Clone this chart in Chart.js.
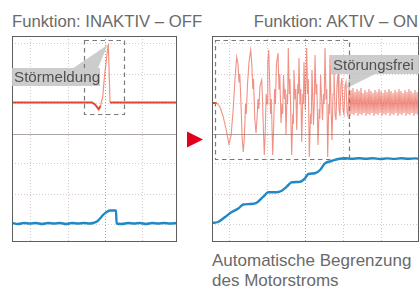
<!DOCTYPE html>
<html lang="de">
<head>
<meta charset="utf-8">
<script src="https://cdn.jsdelivr.net/npm/chart.js@4.4.1/dist/chart.umd.min.js"></script>
<style>
  body { margin: 0; background: #fff; font-family: "Liberation Sans", Arial, sans-serif; color: #6a6a6a; }
  #page { position: relative; width: 419px; height: 289px; overflow: hidden; }
  .title { position: absolute; top: 14px; font-size: 16.7px; line-height: 1; white-space: nowrap; }
  canvas { position: absolute; top: 36px; }
  .tag { position: absolute; height: 18px; line-height: 18px; background: rgba(200,200,200,0.92); color: #505050; font-size: 15.2px; padding-left: 2px; white-space: nowrap; box-sizing: border-box; }
  .caption { position: absolute; left: 212px; top: 251px; font-size: 17px; line-height: 20px; }
</style>
</head>
<body>
<div id="page">
  <div class="title" style="left:12px">Funktion: INAKTIV – OFF</div>
  <div class="title" style="right:1px">Funktion: AKTIV – ON</div>
  <canvas id="scopeOff" width="165" height="206" style="left:12px"></canvas>
  <canvas id="scopeOn" width="207" height="206" style="left:212px"></canvas>
  <svg style="position:absolute;left:186px;top:131px" width="18" height="17"><polygon points="1,0.5 17,8.5 1,16.5" fill="#e2001a"/></svg>
  <div class="tag" style="left:12px;top:68px;width:88px">Störmeldung</div>
  <div class="tag" style="left:331px;top:55px;width:88px;height:19px;line-height:19px;font-size:15px">Störungsfrei</div>
  <div class="caption">Automatische Begrenzung<br>des Motorstroms</div>
</div>
<script>
// time (x) against signal (y), y = 0 is the centre line of each scope screen
const offRed = [[0,31.5],[80,31.5],[83,29.5],[86.7,24.7],[88.5,28],[90.7,37],[92.5,58],[94.7,77],
  [96.3,90],[97.2,60],[98,31.5],[165,31.5]];
const offBlue = [[0,-89],[6,-90],[12,-89],[18,-89.5],[24,-89],[30,-90],[36,-89],[42,-89.5],[48,-89],
  [54,-90],[60,-89],[66,-89.5],[72,-89],[78,-89.5],[81,-89],[85,-87.5],[88,-84.5],[91,-81],[94.7,-78],
  [98,-76.5],[104,-76.5],[104.6,-89.5],[110,-90],[116,-89],[122,-89.5],[128,-89],[134,-90],[140,-89],
  [146,-89.5],[152,-89],[158,-89.5],[165,-89]];

const onRed = [[0,31],[4.7,31],[8,27],[11,18],[14,5],[17,-10],[19,-2],[21,22],[23,55],[24.7,77],
  [26,70],[27,52],[27.8,60],[29,30],[30.2,-5],[31.3,-18],[32.3,-5],[33.5,30],[34.3,20],[35.5,50],
  [37,72],[38.7,84],[39.8,70],[40.8,45],[41.5,55],[42.8,15],[44,1],[45,15],[46,35],[46.8,25],[48,48],
  [49.7,54],[50.5,35],[51.4,5],[52.3,-21],[53.2,0],[54.2,40],[55,30],[55.8,70],[56.7,84],[57.6,55],
  [58.6,20],[59.3,35],[60.7,-21],[61.6,5],[62.6,45],[63.4,30],[64.5,70],[66,81],[67,45],[67.8,60],
  [69,11],[70,30],[70.7,20],[71.5,59],[72.5,35],[73.2,45],[74,-1],[75,40],[75.6,30],[76.3,86],[77.3,40],
  [78,55],[79.7,-21],[80.8,20],[81.4,10],[82,64],[83,35],[83.8,45],[84.7,4],[85.8,50],[86.4,40],[87,76],
  [88,30],[88.8,45],[89.7,-8],[90.8,40],[91.4,30],[92,72],[93.3,24],[94.7,86],[95.6,40],[96.3,55],
  [97.3,-23],[98.5,20],[99.2,10],[100,64],[101.5,9],[102.3,30],[103,79],[104,40],[104.8,50],[106,-11],
  [107.2,25],[107.8,15],[108.5,59],[110.5,14],[111.5,40],[112.2,30],[113,86],[114,35],[114.8,45],
  [115.7,-23],[116.8,30],[117.4,20],[118,79],[119,30],[120,-6],[121,40],[122,66],[123,20],[124,14],
  [125,50],[126,60],[127,25],[128,18],[129,50],[130,56],[131,24],[132,20],[133,48],[134,52],[135,22],
  [136,18],[137,47],[138,18],[139,44],[140,20],[141,46],[142,19],[143,42],[144,21],[145,45],[146,18],
  [147,43],[148,20],[149,46],[150,19],[151,41],[152,21],[153,44],[154,18],[155,42],[156,20],[157,45],
  [158,19],[159,43],[160,21],[161,41],[162,18],[163,44],[164,20],[165,42],[166,19],[167,45],[168,21],
  [169,43],[170,18],[171,41],[172,20],[173,44],[174,19],[175,42],[176,21],[177,45],[178,18],[179,43],
  [180,20],[181,41],[182,19],[183,44],[184,21],[185,42],[186,18],[187,45],[188,20],[189,43],[190,19],
  [191,41],[192,21],[193,44],[194,18],[195,42],[196,20],[197,45],[198,19],[199,43],[200,21],[201,41],
  [202,18],[203,44],[204,20],[205,42],[206,19],[207,43]];
const onBlue = [[0,-89],[6,-88],[13,-83],[19.7,-78],[26.3,-74.5],[31.3,-70.5],[38,-70],[44.7,-68.7],
  [51.3,-62.7],[56.3,-58.3],[64.7,-58.3],[69.7,-56.7],[74.7,-52.7],[79.7,-48.3],[88,-47.7],[93,-44.3],
  [96.3,-40],[103,-39.3],[108,-36],[113,-29.3],[119.7,-27],[126.3,-25],[133,-24.3],[140,-24.8],
  [147,-24.2],[154,-24.8],[161,-24.3],[168,-25],[175,-24.4],[182,-24.9],[189,-24.3],[196,-24.8],
  [203,-24.4],[207,-24.7]];

// grid divisions
const gridOffX = [18, 56, 93, 130];
const gridOnX = [17, 55, 93, 131, 169];
const gridY = [-90, -60, -30, 0, 30, 60, 90];

const toXY = arr => arr.map(p => ({x: p[0], y: p[1]}));

const scopeMarks = {
  id: 'scopeMarks',
  beforeDatasetsDraw(chart) {
    const {ctx, chartArea: a, scales: {y}} = chart;
    const y0 = Math.round(y.getPixelForValue(0)) + 0.5;
    ctx.save();
    ctx.strokeStyle = '#aba5a3';
    ctx.lineWidth = 1;
    ctx.beginPath(); ctx.moveTo(a.left, y0); ctx.lineTo(a.right, y0); ctx.stroke();
    ctx.restore();
  },
  afterDatasetsDraw(chart, args, opts) {
    const {ctx, scales: {x, y}} = chart;
    ctx.save();
    // callout wedge
    ctx.fillStyle = 'rgba(200,200,200,0.92)';
    ctx.beginPath();
    opts.wedge.forEach((p, i) => {
      const px = x.getPixelForValue(p[0]), py = y.getPixelForValue(p[1]);
      i ? ctx.lineTo(px, py) : ctx.moveTo(px, py);
    });
    ctx.closePath(); ctx.fill();
    // dashed box
    const b = opts.box;
    const x0 = Math.round(x.getPixelForValue(b[0])) + 0.5, x1 = Math.round(x.getPixelForValue(b[2])) + 0.5;
    const y0 = Math.round(y.getPixelForValue(b[1])) + 0.5, y1 = Math.round(y.getPixelForValue(b[3])) + 0.5;
    ctx.strokeStyle = '#7a7a7a';
    ctx.lineWidth = 1.2;
    ctx.setLineDash([4.5, 3.5]);
    ctx.strokeRect(x0, y0, x1 - x0, y1 - y0);
    ctx.restore();
  },
  afterDraw(chart) {
    const {ctx, chartArea: a} = chart;
    ctx.save();
    ctx.strokeStyle = '#5e5e5e';
    ctx.lineWidth = 1;
    ctx.strokeRect(a.left + 0.5, a.top + 0.5, a.width - 1, a.height - 1);
    ctx.restore();
  }
};

function scope(id, red, blue, gridX, xMax, marks, redStyle) {
  return new Chart(document.getElementById(id), {
    type: 'line',
    data: {
      datasets: [{
        data: toXY(blue),
        borderColor: '#2089c5',
        borderWidth: 2.4,
        cubicInterpolationMode: 'monotone',
        pointRadius: 0
      }, Object.assign({
        data: toXY(red),
        tension: 0,
        pointRadius: 0
      }, redStyle)]
    },
    options: {
      responsive: false,
      animation: false,
      layout: { padding: 0 },
      events: [],
      scales: {
        x: {
          type: 'linear', min: 0, max: xMax,
          afterBuildTicks: axis => { axis.ticks = gridX.map(v => ({value: v})); },
          ticks: { display: false },
          border: { display: false, dash: [1, 2] },
          grid: { drawTicks: false, color: c => c.tick && c.tick.value === 93 ? '#aaa4a4' : '#d8caca' }
        },
        y: {
          min: -108, max: 98,
          afterBuildTicks: axis => { axis.ticks = gridY.map(v => ({value: v})); },
          ticks: { display: false },
          border: { display: false, dash: [1, 2] },
          grid: { drawTicks: false, color: '#d8caca' }
        }
      },
      plugins: {
        legend: { display: false },
        tooltip: { enabled: false },
        scopeMarks: marks
      }
    },
    plugins: [scopeMarks]
  });
}

scope('scopeOff', offRed, offBlue, gridOffX, 165,
  { box: [72, 94, 112, 20.5], wedge: [[61, 65.7], [86, 65.7], [95.5, 89]] },
  {
    borderColor: '#e8452f', borderWidth: 2,
    segment: {
      borderColor: c => c.p0.parsed.x >= 88 && c.p1.parsed.x <= 98.5 ? 'rgba(240,110,80,0.75)' : undefined,
      borderWidth: c => c.p0.parsed.x >= 88 && c.p1.parsed.x <= 98.5 ? 1.2 : undefined
    }
  });

scope('scopeOn', onRed, onBlue, gridOnX, 207,
  { box: [3, 94, 137, -25], wedge: [[138, 60.7], [164.7, 60.7], [134.7, 45.7]] },
  {
    borderColor: 'rgba(232,72,52,0.6)', borderWidth: 1.1,
    segment: {
      borderColor: c => c.p1.parsed.x <= 5 ? '#e8452f' : undefined,
      borderWidth: c => c.p1.parsed.x <= 5 ? 2 : undefined
    }
  });
</script>
</body>
</html>
